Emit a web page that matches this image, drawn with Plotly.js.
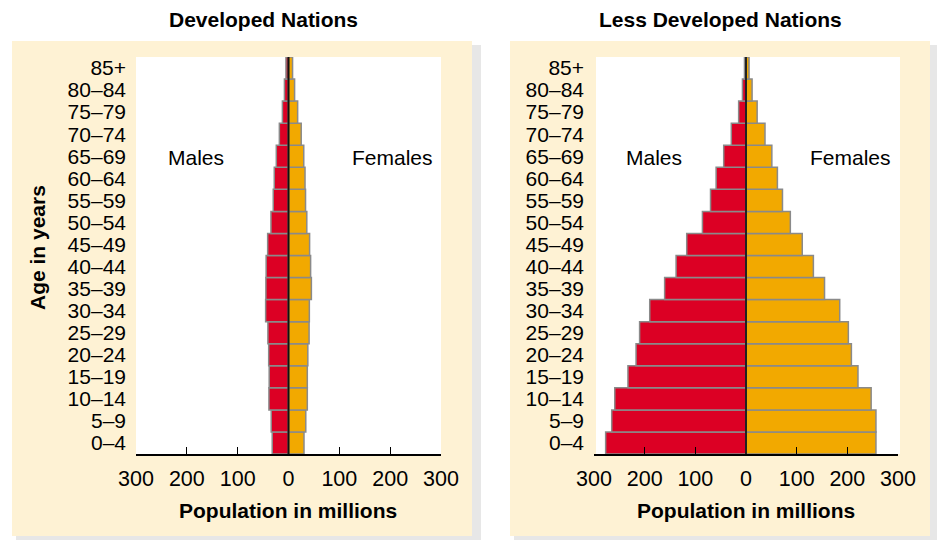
<!DOCTYPE html>
<html>
<head>
<meta charset="utf-8">
<script src="https://cdn.plot.ly/plotly-3.0.1.min.js"></script>
<style>html,body{margin:0;padding:0;background:#fff;}#chart{width:938px;height:540px;}</style>
</head>
<body>
<div id="chart"></div>
<script>
// ---- data ----
const ageGroups = ["0–4","5–9","10–14","15–19","20–24","25–29","30–34","35–39","40–44","45–49","50–54","55–59","60–64","65–69","70–74","75–79","80–84","85+"];
const devMales   = [32, 34, 38.5, 38, 39, 40.5, 45, 44.5, 44, 41, 34.5, 30, 28, 24, 18, 12, 8, 5];
const devFemales = [30.5, 34, 37, 37, 38, 40.5, 41, 45, 43.5, 41.5, 36, 33.5, 32.5, 30, 25, 18, 12, 8];
const ldMales    = [277, 265, 259, 233, 217, 210, 190, 160.6, 138, 117, 86, 70, 59, 44, 29, 14.5, 7, 3];
const ldFemales  = [256.5, 256.5, 247, 221, 208, 202, 185, 155, 133, 111, 87.5, 72, 62, 51, 37.5, 22, 12, 6];
const tickVals = [-300, -200, -100, 0, 100, 200, 300];
const tickText = ["300", "200", "100", "0", "100", "200", "300"];

// ---- layout helpers ----
const W = 938, H = 540;
const px = x => x / W;
const py = y => 1 - y / H;
const FONT = "Liberation Sans, Arial, Helvetica, sans-serif";
const RED = "#DC0024", ORANGE = "#F2A900", OUTLINE = "#8a8a8a";

function barTrace(vals, neg, color, xa, ya) {
  return {
    type: "bar", orientation: "h",
    y: ageGroups,
    x: vals.map(v => neg ? -v : v),
    xaxis: xa, yaxis: ya,
    marker: {color: color, line: {color: OUTLINE, width: 1.5}},
    hoverinfo: "skip", showlegend: false
  };
}

const data = [
  barTrace(devMales, true, RED, "x", "y"),
  barTrace(devFemales, false, ORANGE, "x", "y"),
  barTrace(ldMales, true, RED, "x2", "y2"),
  barTrace(ldFemales, false, ORANGE, "x2", "y2")
];

function xaxis(d0, d1, anchor) {
  return {
    domain: [px(d0), px(d1)], anchor: anchor,
    range: [-300, 300], fixedrange: true,
    tickmode: "array", tickvals: tickVals, ticktext: tickText,
    ticks: "inside", ticklen: 7, tickwidth: 1.3, tickcolor: "#000",
    showline: true, linecolor: "#000", linewidth: 1.5,
    showgrid: false, zeroline: false,
    ticklabelstandoff: 5,
    tickfont: {family: FONT, size: 21.5, color: "#000"}
  };
}
function yaxis(anchor) {
  return {
    domain: [py(454), py(57)], anchor: anchor,
    type: "category", range: [-0.5, 17.5], fixedrange: true,
    tickmode: "array", tickvals: ageGroups, ticktext: ageGroups,
    showline: false, showgrid: false, zeroline: false, ticks: "",
    ticklabelstandoff: 9,
    tickfont: {family: FONT, size: 21, color: "#000"}
  };
}

const shapes = [
  // shadows
  {type: "rect", xref: "paper", yref: "paper", x0: px(472), x1: px(481), y0: py(540), y1: py(45), fillcolor: "#e7e7e7", line: {width: 0}, layer: "below"},
  {type: "rect", xref: "paper", yref: "paper", x0: px(16), x1: px(481), y0: py(540), y1: py(536), fillcolor: "#e7e7e7", line: {width: 0}, layer: "below"},
  {type: "rect", xref: "paper", yref: "paper", x0: px(930), x1: px(937), y0: py(540), y1: py(45), fillcolor: "#e7e7e7", line: {width: 0}, layer: "below"},
  {type: "rect", xref: "paper", yref: "paper", x0: px(514), x1: px(937), y0: py(540), y1: py(536), fillcolor: "#e7e7e7", line: {width: 0}, layer: "below"},
  // cream panels
  {type: "rect", xref: "paper", yref: "paper", x0: px(12), x1: px(472), y0: py(536), y1: py(41), fillcolor: "#FEF2D4", line: {width: 0}, layer: "below"},
  {type: "rect", xref: "paper", yref: "paper", x0: px(510), x1: px(930), y0: py(536), y1: py(41), fillcolor: "#FEF2D4", line: {width: 0}, layer: "below"},
  // white plot areas
  {type: "rect", xref: "paper", yref: "paper", x0: px(136), x1: px(441), y0: py(454), y1: py(57), fillcolor: "#ffffff", line: {width: 0}, layer: "below"},
  {type: "rect", xref: "paper", yref: "paper", x0: px(596), x1: px(900), y0: py(454), y1: py(57), fillcolor: "#ffffff", line: {width: 0}, layer: "below"},
  // center lines
  {type: "line", xref: "x", yref: "paper", x0: 0, x1: 0, y0: py(454), y1: py(57), line: {color: "#111", width: 2}, layer: "above"},
  {type: "line", xref: "x2", yref: "paper", x0: 0, x1: 0, y0: py(454), y1: py(57), line: {color: "#222", width: 2}, layer: "above"}
];

function ann(text, x, y, size, bold, extra) {
  return Object.assign({
    text: bold ? "<b>" + text + "</b>" : text,
    xref: "paper", yref: "paper", x: px(x), y: py(y),
    xanchor: "center", yanchor: "middle", showarrow: false,
    font: {family: FONT, size: size, color: "#000"}
  }, extra || {});
}

const annotations = [
  ann("Developed Nations", 263, 19, 21, true),
  ann("Less Developed Nations", 720, 19, 21, true),
  ann("Population in millions", 288, 510, 21, true),
  ann("Population in millions", 746, 510, 21, true),
  ann("Age in years", 37, 248, 21, true, {textangle: -90}),
  ann("Males", 196, 157, 21, false),
  ann("Females", 392, 157, 21, false),
  ann("Males", 654, 157, 21, false),
  ann("Females", 850, 157, 21, false)
];

const layout = {
  width: W, height: H,
  margin: {l: 0, r: 0, t: 0, b: 0},
  paper_bgcolor: "#ffffff", plot_bgcolor: "rgba(0,0,0,0)",
  barmode: "overlay", bargap: 0,
  font: {family: FONT, color: "#000"},
  xaxis: xaxis(136, 441, "y"),
  yaxis: yaxis("x"),
  xaxis2: xaxis(594, 898, "y2"),
  yaxis2: yaxis("x2"),
  shapes: shapes,
  annotations: annotations
};

Plotly.newPlot("chart", data, layout, {displayModeBar: false, staticPlot: true});
</script>
</body>
</html>
